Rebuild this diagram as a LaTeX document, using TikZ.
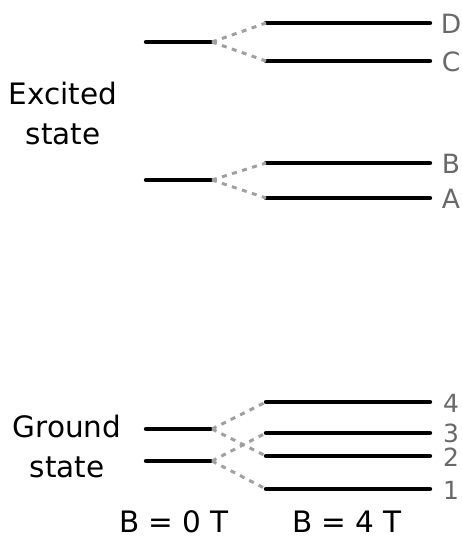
\documentclass[tikz,border=0pt]{standalone}
\usepackage{fontspec}
\setmainfont{DejaVu Sans}
\definecolor{lvlgray}{RGB}{105,105,105}
\definecolor{dashgray}{RGB}{160,160,160}
\begin{document}
\begin{tikzpicture}[x=1pt,y=-1pt,
  level/.style={line width=4.4pt, line cap=round},
  split/.style={line width=3pt, dashgray, dash pattern=on 5pt off 5.5pt},
  lbl/.style={text=lvlgray, font=\fontsize{26.5}{28}\selectfont, inner sep=0pt},
  num/.style={text=lvlgray, font=\fontsize{25}{26}\selectfont, inner sep=0pt},
  txt/.style={font=\fontsize{29.5}{40}\selectfont, align=center, inner sep=0pt},
  axis/.style={font=\fontsize{29.5}{32}\selectfont, inner sep=0pt}]
\useasboundingbox (0,0) rectangle (462,540);
% coordinates: left levels
\coordinate (e2l) at (146,42); \coordinate (e2r) at (212,42);
\coordinate (e1l) at (146,180); \coordinate (e1r) at (212,180);
\coordinate (g2l) at (146,429); \coordinate (g2r) at (212,429);
\coordinate (g1l) at (146,461); \coordinate (g1r) at (212,461);
% right levels
\foreach \n/\y in {D/23,C/61,B/163,A/198,4/402,3/433,2/456,1/489}{
  \coordinate (L-\n) at (266,\y); \coordinate (R-\n) at (430,\y);
}
\draw[level] (e2l) -- (e2r);
\draw[level] (e1l) -- (e1r);
\draw[level] (g2l) -- (g2r);
\draw[level] (g1l) -- (g1r);
\foreach \n in {D,C,B,A,4,3,2,1}{ \draw[level] (L-\n) -- (R-\n); }
% splitting
\draw[split] (e2r) -- (L-D); \draw[split] (e2r) -- (L-C);
\draw[split] (e1r) -- (L-B); \draw[split] (e1r) -- (L-A);
\draw[split] (g2r) -- (L-4); \draw[split] (g2r) -- (L-2);
\draw[split] (g1r) -- (L-3); \draw[split] (g1r) -- (L-1);
% labels
\foreach \n/\y in {D/24,C/62,B/164,A/199}{
  \node[lbl] (t\n) at (451,\y) {\n};
}
\foreach \n/\y in {4/403,3/433,2/457,1/490}{
  \node[num] (t\n) at (451,\y) {\n};
}
\node[txt] (exc) at (63,114) {Excited\\state};
\node[txt] (gnd) at (67,446) {Ground\\state};
\node[axis, anchor=base] (b0) at (174,532) {B = 0 T};
\node[axis, anchor=base] (b4) at (347,532) {B = 4 T};
\end{tikzpicture}
\end{document}
